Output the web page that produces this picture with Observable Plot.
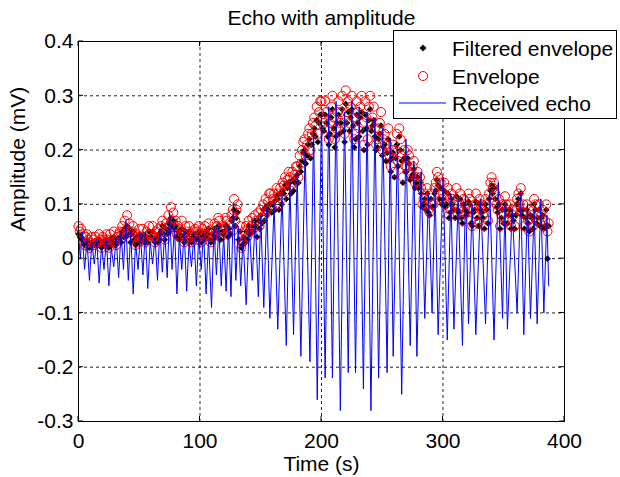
<!DOCTYPE html>
<html><head><meta charset="utf-8">
<script src="https://cdn.jsdelivr.net/npm/d3@7"></script>
<script src="https://cdn.jsdelivr.net/npm/@observablehq/plot@0.6"></script>
<style>
html,body{margin:0;padding:0;background:#fff;}
#chart svg{display:block;}
</style></head><body><div id="chart"></div>
<script>
// ---- Data ----
const titleText = "Echo with amplitude";
const xLabel = "Time (s)";
const yLabel = "Amplitude (mV)";
const xTicks = [0, 100, 200, 300, 400];
const xTickLabels = ["0", "100", "200", "300", "400"];
const yTicks = [-0.3, -0.2, -0.1, 0, 0.1, 0.2, 0.3, 0.4];
const yTickLabels = ["-0.3", "-0.2", "-0.1", "0", "0.1", "0.2", "0.3", "0.4"];
const legendLabels = ["Filtered envelope", "Envelope", "Received echo"];

// Received echo: times (s) and values (mV) of the signal's turning points
const echoTimes = [
  0, 1.5, 3, 5, 7, 9, 11, 13, 15, 17, 19, 21, 23, 25, 27, 29, 31, 33, 35, 37, 39, 41, 43, 45, 47, 49,
  51, 53, 55, 57, 59, 61, 63, 65, 67, 69, 71, 73, 75, 77, 79, 81, 83, 85, 87, 89, 91, 93, 95, 97, 99,
  101, 103, 105, 107, 109.5, 111.5, 113.5, 115.5, 117.5, 119.5, 121.5, 123.5, 125.5, 127.5, 129.5, 131.5, 133.5, 135.5, 138, 140.5, 143, 145.5, 148,
  150, 152.5, 155, 157.5, 161, 164, 167.5, 171, 174, 177, 180, 183, 186.5, 190.5, 193.5, 196.5,
  200, 203, 206, 209, 212, 215.5, 219, 222, 225, 228, 231, 234.5, 237.5, 240.7, 244, 247, 250.5, 254, 256.5, 259,
  262.5, 266, 269.5, 273, 276, 278.5, 282, 285, 288, 291, 293.5, 296,
  300, 303.5, 306.5, 309, 312.5, 316, 318.5, 321, 324, 327, 331, 335, 338.5, 342, 345.5, 349, 351, 353, 357, 361, 364, 366.5, 369.5, 372, 375, 377.5, 380.5, 383, 385.5, 387
];
const echoValues = [
  0.045, 0.0, 0.05, -0.02, 0.035, -0.04, 0.03, -0.01, 0.035, -0.045, 0.025, -0.02, 0.035, -0.05, 0.02, -0.015, 0.04, -0.035, 0.05, -0.02, 0.07, -0.04, 0.05, -0.065, 0.03, -0.02,
  0.045, -0.03, 0.05, -0.055, 0.03, -0.01, 0.04, -0.04, 0.055, -0.025, 0.05, -0.035, 0.085, -0.02, 0.06, -0.065, 0.04, -0.02, 0.05, -0.06, 0.03, -0.015, 0.045, -0.05, 0.04,
  -0.02, 0.05, -0.065, 0.035, -0.09, 0.055, -0.03, 0.06, -0.05, 0.045, -0.06, 0.06, -0.07, 0.1, -0.04, 0.06, -0.05, 0.04, -0.085, 0.06, -0.04, 0.075, -0.07,
  0.08, -0.09, 0.095, -0.11, 0.1, -0.13, 0.12, -0.16, 0.14, -0.14, 0.16, -0.18, 0.2, -0.19, 0.24, -0.26,
  0.27, -0.22, 0.28, -0.22, 0.29, -0.28, 0.27, -0.21, 0.29, -0.21, 0.28, -0.24, 0.27, -0.28, 0.26, -0.22, 0.24, -0.21, 0.22, -0.18,
  0.21, -0.25, 0.22, -0.16, 0.18, -0.18, 0.16, -0.11, 0.12, -0.1, 0.13, -0.14,
  0.15, -0.15, 0.12, -0.13, 0.11, -0.16, 0.12, -0.12, 0.1, -0.14, 0.11, -0.12, 0.13, -0.15, 0.14, -0.11, 0.1, -0.13, 0.09, -0.1, 0.12, -0.14, 0.1, -0.11, 0.09, -0.12, 0.11, -0.1, 0.08, -0.05
];

// Envelope and filtered envelope at even seconds (0, 2, ... 386)
const envelopeEven = [
  0.06, 0.055, 0.045, 0.04, 0.035, 0.03, 0.035, 0.04, 0.03, 0.035,
  0.04, 0.03, 0.035, 0.045, 0.035, 0.03, 0.04, 0.05, 0.06, 0.07,
  0.08, 0.065, 0.05, 0.04, 0.045, 0.055, 0.04, 0.035, 0.05, 0.06,
  0.045, 0.04, 0.05, 0.055, 0.06, 0.05, 0.065, 0.08, 0.095, 0.085,
  0.07, 0.06, 0.05, 0.045, 0.06, 0.05, 0.04, 0.045, 0.055, 0.05,
  0.045, 0.055, 0.06, 0.05, 0.04, 0.05, 0.065, 0.06, 0.07, 0.055,
  0.06, 0.07, 0.065, 0.08, 0.11, 0.09, 0.04, 0.02, 0.05, 0.06,
  0.07, 0.06, 0.055, 0.07, 0.085, 0.09, 0.1, 0.11, 0.105, 0.12,
  0.11, 0.1, 0.12, 0.13, 0.14, 0.15, 0.145, 0.15, 0.16, 0.155,
  0.17, 0.19, 0.2, 0.22, 0.21, 0.24, 0.23, 0.26, 0.28, 0.27,
  0.29, 0.25, 0.27, 0.22, 0.28, 0.26, 0.24, 0.29, 0.27, 0.25,
  0.31, 0.29, 0.28, 0.26, 0.23, 0.27, 0.28, 0.25, 0.29, 0.22,
  0.3, 0.26, 0.24, 0.22, 0.25, 0.2, 0.23, 0.21, 0.19, 0.2,
  0.16, 0.23, 0.24, 0.19, 0.2, 0.17, 0.19, 0.16, 0.18, 0.15,
  0.14, 0.13, 0.11, 0.1, 0.09, 0.12, 0.1, 0.14, 0.15, 0.14,
  0.12, 0.1, 0.13, 0.09, 0.11, 0.08, 0.1, 0.12, 0.07, 0.1,
  0.09, 0.11, 0.06, 0.1, 0.08, 0.11, 0.09, 0.06, 0.1, 0.12,
  0.15, 0.14, 0.1, 0.11, 0.08, 0.07, 0.1, 0.09, 0.06, 0.08,
  0.09, 0.12, 0.13, 0.1, 0.08, 0.07, 0.09, 0.06, 0.1, 0.08,
  0.065, 0.09, 0.07, 0.05
];
const filteredEven = [
  0.045, 0.04, 0.035, 0.03, 0.03, 0.025, 0.03, 0.03, 0.025, 0.03,
  0.03, 0.025, 0.03, 0.035, 0.03, 0.025, 0.035, 0.04, 0.05, 0.055,
  0.06, 0.055, 0.045, 0.035, 0.04, 0.045, 0.035, 0.03, 0.04, 0.05,
  0.04, 0.035, 0.04, 0.045, 0.05, 0.045, 0.055, 0.065, 0.075, 0.07,
  0.06, 0.05, 0.045, 0.04, 0.05, 0.045, 0.035, 0.04, 0.045, 0.045,
  0.04, 0.045, 0.05, 0.045, 0.035, 0.045, 0.055, 0.05, 0.06, 0.05,
  0.05, 0.06, 0.055, 0.07, 0.09, 0.075, 0.035, 0.02, 0.04, 0.05,
  0.06, 0.05, 0.05, 0.06, 0.07, 0.08, 0.09, 0.095, 0.09, 0.1,
  0.1, 0.09, 0.11, 0.12, 0.125, 0.135, 0.13, 0.14, 0.145, 0.14,
  0.155, 0.17, 0.18, 0.2, 0.19, 0.22, 0.21, 0.24, 0.255, 0.25,
  0.265, 0.235, 0.25, 0.21, 0.26, 0.24, 0.225, 0.265, 0.25, 0.235,
  0.285, 0.27, 0.26, 0.245, 0.22, 0.25, 0.26, 0.235, 0.265, 0.21,
  0.275, 0.245, 0.225, 0.205, 0.23, 0.19, 0.21, 0.195, 0.18, 0.185,
  0.15, 0.21, 0.225, 0.18, 0.185, 0.16, 0.175, 0.15, 0.165, 0.14,
  0.13, 0.12, 0.1, 0.09, 0.085, 0.11, 0.095, 0.125, 0.135, 0.13,
  0.11, 0.095, 0.12, 0.085, 0.1, 0.075, 0.09, 0.11, 0.065, 0.09,
  0.085, 0.1, 0.06, 0.09, 0.075, 0.1, 0.085, 0.055, 0.09, 0.11,
  0.135, 0.13, 0.095, 0.1, 0.075, 0.065, 0.09, 0.08, 0.055, 0.07,
  0.08, 0.11, 0.12, 0.09, 0.075, 0.065, 0.08, 0.055, 0.09, 0.075,
  0.06, 0.08, 0.06, 0.0
];
// Envelope and filtered envelope at odd seconds (1, 3, ... 387)
const envelopeOdd = [
  0.05, 0.04, 0.025, 0.045, 0.02, 0.04, 0.025, 0.03, 0.045, 0.02,
  0.035, 0.045, 0.02, 0.03, 0.05, 0.025, 0.045, 0.035, 0.05, 0.045,
  0.05, 0.035, 0.06, 0.025, 0.03, 0.04, 0.055, 0.03, 0.035, 0.045,
  0.06, 0.03, 0.035, 0.04, 0.07, 0.035, 0.05, 0.06, 0.07, 0.06,
  0.045, 0.04, 0.07, 0.03, 0.035, 0.06, 0.03, 0.05, 0.035, 0.06,
  0.03, 0.04, 0.045, 0.065, 0.03, 0.04, 0.045, 0.075, 0.04, 0.05,
  0.075, 0.045, 0.05, 0.09, 0.07, 0.1, 0.06, 0.03, 0.035, 0.04,
  0.05, 0.075, 0.08, 0.045, 0.06, 0.075, 0.08, 0.09, 0.12, 0.095,
  0.12, 0.13, 0.1, 0.11, 0.135, 0.125, 0.16, 0.135, 0.14, 0.17,
  0.15, 0.175, 0.215, 0.19, 0.23, 0.2, 0.25, 0.245, 0.23, 0.29,
  0.26, 0.29, 0.24, 0.25, 0.3, 0.22, 0.27, 0.25, 0.3, 0.23,
  0.27, 0.25, 0.3, 0.22, 0.29, 0.24, 0.3, 0.21, 0.26, 0.28,
  0.25, 0.28, 0.21, 0.24, 0.27, 0.22, 0.19, 0.24, 0.17, 0.21,
  0.2, 0.18, 0.22, 0.15, 0.17, 0.2, 0.155, 0.17, 0.14, 0.16,
  0.15, 0.1, 0.12, 0.13, 0.085, 0.1, 0.13, 0.16, 0.12, 0.11,
  0.14, 0.11, 0.08, 0.12, 0.1, 0.13, 0.09, 0.08, 0.11, 0.085,
  0.12, 0.07, 0.09, 0.12, 0.065, 0.1, 0.08, 0.11, 0.07, 0.14,
  0.13, 0.12, 0.09, 0.06, 0.1, 0.115, 0.07, 0.1, 0.09, 0.06,
  0.11, 0.1, 0.085, 0.06, 0.1, 0.05, 0.08, 0.11, 0.07, 0.1,
  0.08, 0.06, 0.1, 0.065
];
const filteredOdd = [
  0.04, 0.035, 0.025, 0.035, 0.02, 0.03, 0.025, 0.025, 0.035, 0.02,
  0.03, 0.035, 0.02, 0.025, 0.04, 0.025, 0.035, 0.03, 0.04, 0.04,
  0.045, 0.03, 0.05, 0.025, 0.03, 0.035, 0.045, 0.03, 0.03, 0.04,
  0.05, 0.03, 0.03, 0.035, 0.06, 0.035, 0.045, 0.05, 0.06, 0.055,
  0.04, 0.035, 0.055, 0.03, 0.035, 0.05, 0.03, 0.045, 0.035, 0.05,
  0.03, 0.035, 0.04, 0.055, 0.03, 0.035, 0.04, 0.06, 0.035, 0.045,
  0.06, 0.04, 0.045, 0.075, 0.06, 0.085, 0.05, 0.025, 0.03, 0.035,
  0.045, 0.06, 0.07, 0.04, 0.055, 0.065, 0.07, 0.08, 0.1, 0.085,
  0.105, 0.115, 0.09, 0.1, 0.12, 0.11, 0.14, 0.12, 0.125, 0.15,
  0.14, 0.16, 0.195, 0.175, 0.21, 0.185, 0.23, 0.225, 0.215, 0.265,
  0.24, 0.265, 0.225, 0.23, 0.275, 0.205, 0.25, 0.23, 0.275, 0.215,
  0.25, 0.235, 0.275, 0.205, 0.265, 0.225, 0.27, 0.2, 0.24, 0.255,
  0.235, 0.255, 0.2, 0.22, 0.245, 0.205, 0.18, 0.22, 0.16, 0.195,
  0.185, 0.17, 0.2, 0.14, 0.16, 0.185, 0.145, 0.155, 0.13, 0.15,
  0.14, 0.095, 0.11, 0.12, 0.08, 0.095, 0.12, 0.145, 0.11, 0.1,
  0.125, 0.1, 0.075, 0.11, 0.09, 0.115, 0.085, 0.075, 0.1, 0.08,
  0.105, 0.065, 0.085, 0.105, 0.06, 0.09, 0.075, 0.1, 0.065, 0.125,
  0.12, 0.11, 0.085, 0.055, 0.09, 0.1, 0.065, 0.09, 0.08, 0.055,
  0.1, 0.09, 0.08, 0.055, 0.09, 0.05, 0.075, 0.1, 0.065, 0.09,
  0.075, 0.055, 0.09, 0.06
];

// ---- Tables built from the arrays ----
const echoData = echoTimes.map((t, i) => ({t, v: echoValues[i]}));
const envData = [
  ...envelopeEven.map((v, i) => ({t: 2 * i, v, f: filteredEven[i]})),
  ...envelopeOdd.map((v, i) => ({t: 2 * i + 1, v, f: filteredOdd[i]}))
].sort((a, b) => a.t - b.t);

const FONT = "'Liberation Sans', Arial, Helvetica, sans-serif";
const diamond = {
  draw(ctx, size) {
    const r = Math.sqrt(size / Math.PI);
    ctx.moveTo(0, -r); ctx.lineTo(r, 0); ctx.lineTo(0, r); ctx.lineTo(-r, 0); ctx.closePath();
  }
};
const gridStyle = {stroke: "#222", strokeOpacity: 1, strokeWidth: 1, strokeDasharray: "3,3"};

const plot = Plot.plot({
  width: 620, height: 477,
  marginLeft: 78, marginRight: 56, marginTop: 41, marginBottom: 56,
  style: {fontFamily: FONT, fontSize: "21px", color: "black", background: "white", overflow: "visible"},
  x: {domain: [0, 400], ticks: xTicks, tickFormat: d => xTickLabels[xTicks.indexOf(d)], tickSize: 0, tickPadding: 12, label: null},
  y: {domain: [-0.3, 0.4], ticks: yTicks, tickFormat: d => yTickLabels[yTicks.findIndex(v => Math.abs(v - d) < 1e-9)], tickSize: 0, tickPadding: 5, label: null},
  marks: [
    Plot.gridX(xTicks, gridStyle),
    Plot.gridY(yTicks, gridStyle),
    Plot.dot(envData, {x: "t", y: "f", symbol: diamond, r: 3.3, fill: "black", stroke: "none"}),
    Plot.dot(envData, {x: "t", y: "v", symbol: "circle", r: 4.5, stroke: "#ff0000", strokeWidth: 1, fill: "none"}),
    Plot.line(echoData, {x: "t", y: "v", stroke: "#0000ff", strokeWidth: 1}),
    Plot.frame({stroke: "black", strokeWidth: 1}),
    Plot.text([titleText], {frameAnchor: "top", dy: -31, fontSize: 21, fill: "black"}),
    Plot.text([xLabel], {frameAnchor: "bottom", dy: 49, fontSize: 21, fill: "black"}),
    Plot.text([yLabel], {frameAnchor: "left", dx: -60, rotate: -90, fontSize: 21, fill: "black"})
  ]
});
document.getElementById("chart").appendChild(plot);

// ---- Inward ticks and legend ----
const sx = plot.scale("x"), sy = plot.scale("y");
const svg = d3.select(plot);
const X0 = sx.apply(xTicks[0]), X1 = sx.apply(xTicks[xTicks.length - 1]);
const Y0 = sy.apply(yTicks[0]), Y1 = sy.apply(yTicks[yTicks.length - 1]);
const tk = svg.append("g").attr("stroke", "black").attr("stroke-width", 1);
const TL = 5;
yTicks.forEach(v => {
  const y = sy.apply(v);
  tk.append("line").attr("x1", X0).attr("x2", X0 + TL).attr("y1", y).attr("y2", y);
  tk.append("line").attr("x1", X1).attr("x2", X1 - TL).attr("y1", y).attr("y2", y);
});
xTicks.forEach(v => {
  const x = sx.apply(v);
  tk.append("line").attr("x1", x).attr("x2", x).attr("y1", Y0).attr("y2", Y0 - TL);
  tk.append("line").attr("x1", x).attr("x2", x).attr("y1", Y1).attr("y2", Y1 + TL);
});

const lg = svg.append("g").attr("font-family", FONT).attr("font-size", 21).attr("text-anchor", "start");
lg.append("rect").attr("x", 393.5).attr("y", 30.5).attr("width", 223).attr("height", 88)
  .attr("fill", "white").attr("stroke", "black").attr("stroke-width", 1);
const rows = [48, 76, 103];
lg.append("path").attr("d", `M423,${rows[0]-3.5}L426.5,${rows[0]}L423,${rows[0]+3.5}L419.5,${rows[0]}Z`).attr("fill", "black");
lg.append("circle").attr("cx", 423).attr("cy", rows[1]).attr("r", 4.5).attr("fill", "none").attr("stroke", "#ff0000");
lg.append("line").attr("x1", 399).attr("x2", 446).attr("y1", rows[2]).attr("y2", rows[2]).attr("stroke", "#0000ff");
legendLabels.forEach((s, i) => {
  lg.append("text").attr("x", 452).attr("y", rows[i]).attr("dy", "0.36em").attr("text-anchor", "start").attr("fill", "black").text(s);
});
</script></body></html>
